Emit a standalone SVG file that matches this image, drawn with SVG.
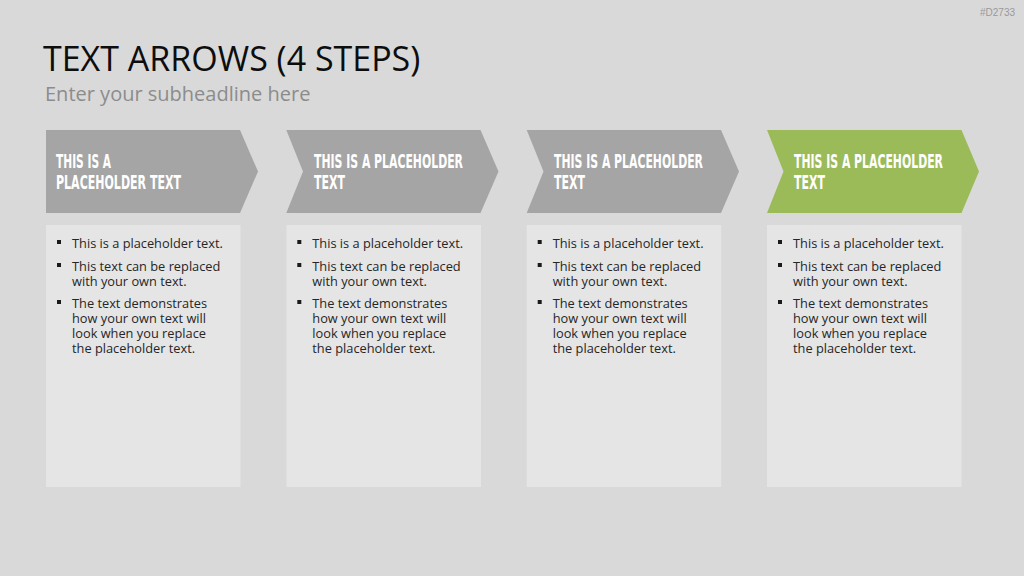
<svg xmlns="http://www.w3.org/2000/svg" width="1024" height="576" viewBox="0 0 1024 576">
<style>
.bg{fill:#d9d9d9}
.arrow{fill:#a5a5a5}
.arrow.green{fill:#9bbb59}
.box{fill:#e5e5e5}
.head{font-family:"DejaVu Sans Condensed","DejaVu Sans",sans-serif;font-stretch:condensed;font-weight:bold;font-size:19px;fill:#ffffff}
.body{font-family:"Open Sans","Noto Sans",sans-serif;font-size:12.8px;fill:#262626}
.bullet{fill:#1a1a1a}
.title{font-family:"Open Sans","Noto Sans",sans-serif;font-size:34px;fill:#0d0d0d}
.sub{font-family:"Open Sans","Noto Sans",sans-serif;font-size:20px;fill:#8c8c8c}
.tag{font-family:"Liberation Sans",sans-serif;font-size:10px;fill:#9a9a9a}
</style>
<defs>
<g id="bodytext">
<rect class="bullet" x="11" y="15" width="4" height="4"/>
<text class="body" x="26" y="23">This is a placeholder text.</text>
<rect class="bullet" x="11" y="38" width="4" height="4"/>
<text class="body" x="26" y="46">This text can be replaced</text>
<text class="body" x="26" y="61">with your own text.</text>
<rect class="bullet" x="11" y="75" width="4" height="4"/>
<text class="body" x="26" y="83">The text demonstrates</text>
<text class="body" x="26" y="98">how your own text will</text>
<text class="body" x="26" y="113">look when you replace</text>
<text class="body" x="26" y="128">the placeholder text.</text>
</g>
</defs>
<rect class="bg" x="0" y="0" width="1024" height="576"/>
<text class="tag" x="1015" y="16" text-anchor="end">#D2733</text>
<text class="title" x="43" y="71">TEXT ARROWS (4 STEPS)</text>
<text class="sub" x="45" y="101">Enter your subheadline here</text>

<g id="step1">
<path class="arrow" d="M46,130 L240,130 L258,171.5 L240,213 L46,213 Z"/>
<text class="head" x="56" y="168" textLength="55" lengthAdjust="spacingAndGlyphs">THIS IS A</text>
<text class="head" x="56" y="189" textLength="125" lengthAdjust="spacingAndGlyphs">PLACEHOLDER TEXT</text>
<rect class="box" x="46" y="225" width="194.5" height="262"/>
<use href="#bodytext" x="46" y="225"/>
</g>
<g id="step2">
<path class="arrow" d="M286.3,130 L480.5,130 L498.5,171.5 L480.5,213 L286.3,213 L303,171.5 Z"/>
<text class="head" x="314" y="168" textLength="149" lengthAdjust="spacingAndGlyphs">THIS IS A PLACEHOLDER</text>
<text class="head" x="314" y="189" textLength="31" lengthAdjust="spacingAndGlyphs">TEXT</text>
<rect class="box" x="286.5" y="225" width="194.5" height="262"/>
<use href="#bodytext" x="286.3" y="225"/>
</g>
<g id="step3">
<path class="arrow" d="M526.7,130 L721,130 L739,171.5 L721,213 L526.7,213 L543.5,171.5 Z"/>
<text class="head" x="554" y="168" textLength="149" lengthAdjust="spacingAndGlyphs">THIS IS A PLACEHOLDER</text>
<text class="head" x="554" y="189" textLength="31" lengthAdjust="spacingAndGlyphs">TEXT</text>
<rect class="box" x="526.7" y="225" width="194.5" height="262"/>
<use href="#bodytext" x="526.7" y="225"/>
</g>
<g id="step4">
<path class="arrow green" d="M767,130 L961.5,130 L979,171.5 L961.5,213 L767,213 L783.5,171.5 Z"/>
<text class="head" x="794" y="168" textLength="149" lengthAdjust="spacingAndGlyphs">THIS IS A PLACEHOLDER</text>
<text class="head" x="794" y="189" textLength="31" lengthAdjust="spacingAndGlyphs">TEXT</text>
<rect class="box" x="767" y="225" width="194.5" height="262"/>
<use href="#bodytext" x="767" y="225"/>
</g>
<g id="connectors"/>
</svg>
